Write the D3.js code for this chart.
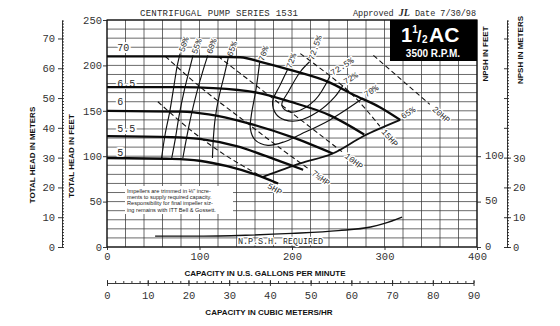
<!DOCTYPE html>
<html><head><meta charset="utf-8">
<script src="https://cdn.jsdelivr.net/npm/d3@7"></script>
<style>
body{margin:0;background:#fff}
svg{display:block}
.hand{font-family:"Liberation Mono",monospace;fill:#2a2a2a}
.bold{font-family:"Liberation Sans",Arial,sans-serif;font-weight:bold;fill:#111}
.halo{stroke:#fff;stroke-width:4;paint-order:stroke;stroke-linejoin:round}
.axis text{font-family:"Liberation Mono",monospace;font-size:10.5px;fill:#333}
.axis line,.axis path{stroke:#222;stroke-width:0.9}
</style></head><body>
<div id="chart"></div>
<script>
// impeller diameters (inches), head curves as [gpm, feet]
var diameters = ['70', '6.5', '6', '5.5', '5'];
var head70 = [[0,210],[80,210],[144,209],[169,203],[198,195],[241,181],[266,168],[295,154],[317,140]];
var head65 = [[0,176],[80,176],[115,175],[162,170],[198,160],[241,145],[278,124]];
var head60 = [[0,150],[80,149],[110,146],[150,137],[200,121],[244,103]];
var head55 = [[0,122],[70,121],[100,119],[140,111],[180,97],[212,85]];
var head50 = [[0,98],[70,97],[100,95],[130,89],[160,80],[185,70]];
var labelFt = [220, 180, 160, 130, 104];

// efficiency iso-lines
var effNames = ['50%', '55%', '60%', '65%', '70%', '72%', '72.5%'];
var eff50 = [[79,213],[76,200],[72,175],[68,150],[63,125],[59,98]];
var eff55 = [[93,211],[89,195],[83,170],[78,145],[74,120],[70,98]];
var eff60 = [[109,211],[104,195],[97,170],[91,145],[86,120],[82,98]];
var eff65 = [[131,208],[127,190],[121,165],[117,142],[115,120],[114,98]];
var eff65r = [[168,77],[209,92],[244,103],[277,122],[317,140]];
var eff70 = [[165,203],[161,173],[156,145],[155,130],[160,118],[174,112],[192,116],[209,124],[241,140],[277,164]];
var eff72 = [[195,195],[187,178],[179,160],[183,146],[192,140],[206,139],[228,149],[246,165],[255,178]];
var eff725 = [[219,204],[209,193],[196,171],[189,157],[194,150],[204,149],[225,162],[241,188]];

// horsepower lines
var hpNames = ['5HP', '7\u00bdHP', '10HP', '15HP', '20HP'];
var hp5 = [[55,160],[90,129],[128,101],[168,77]];
var hp75 = [[63,210],[101,176],[147,140],[187,109],[218,86]];
var hp10 = [[120,210],[198,149],[254,105]];
var hp15 = [[209,213],[263,170],[295,133]];
var hp20 = [[288,211],[349,157]];

// npsh required, [gpm, feet]
var npsh = [[52,12],[100,12],[150,13],[200,15],[250,18],[285,22],[300,26],[319,33]];

var gpmTicks = [0, 100, 200, 300, 400];
var ftTicks = [0, 50, 100, 150, 200, 250];
var npshFtTicks = [0, 50, 100];
var meterTicks = [0, 10, 20, 30, 40, 50, 60, 70];
var npshMeterTicks = [0, 10, 20, 30];
var cubicTicks = [0, 10, 20, 30, 40, 50, 60, 70, 80, 90];

var FT_PER_M = 3.2808, GPM_PER_M3H = 4.4029;

var svg = d3.select('#chart').append('svg').attr('width', 560).attr('height', 326);

var x = d3.scaleLinear().domain([0, 400]).range([107, 477]);
var y = d3.scaleLinear().domain([0, 250]).range([247, 20]);
var yM = d3.scaleLinear().domain([0, 250 / FT_PER_M]).range([247, 20]);
var xC = d3.scaleLinear().domain([0, 90]).range([107, x(90 * GPM_PER_M3H)]);

// grid
var grid = svg.append('g').attr('stroke', '#3a3a3a').attr('stroke-width', 0.75);
grid.selectAll('.v').data(d3.range(0, 401, 20)).enter().append('line')
  .attr('x1', function(d){return x(d)}).attr('x2', function(d){return x(d)})
  .attr('y1', y(0)).attr('y2', y(250));
grid.selectAll('.h').data(d3.range(0, 251, 10)).enter().append('line')
  .attr('y1', function(d){return y(d)}).attr('y2', function(d){return y(d)})
  .attr('x1', x(0)).attr('x2', x(400));
svg.append('rect').attr('x', x(0)).attr('y', y(250)).attr('width', x(400) - x(0)).attr('height', y(0) - y(250))
  .attr('fill', 'none').attr('stroke', '#111').attr('stroke-width', 1.2);

// axes
svg.append('g').attr('class', 'axis').attr('transform', 'translate(' + x(0) + ',0)')
  .call(d3.axisLeft(y).tickValues(ftTicks).tickSize(4).tickPadding(1).tickSizeOuter(0))
  .call(function(g){ g.select('.domain').remove(); });
svg.append('g').attr('class', 'axis').attr('transform', 'translate(' + x(400) + ',0)')
  .call(d3.axisRight(y).tickValues(npshFtTicks).tickSize(4).tickPadding(4))
  .call(function(g){ g.select('.domain').remove(); g.selectAll('text').attr('dy', '0.2em'); });
svg.append('g').attr('class', 'axis').attr('transform', 'translate(0,' + y(0) + ')')
  .call(d3.axisBottom(x).tickValues(gpmTicks).tickSize(3).tickPadding(3))
  .call(function(g){ g.select('.domain').remove(); });

// meters, left
svg.append('g').attr('class', 'axis').attr('transform', 'translate(62,0)')
  .call(d3.axisLeft(yM).tickValues(meterTicks).tickSize(4).tickPadding(3).tickSizeOuter(0));
svg.append('g').attr('class', 'axis').attr('transform', 'translate(62,0)')
  .call(d3.axisRight(yM).tickValues(d3.range(0, 77, 1)).tickSize(2).tickFormat('').tickSizeOuter(0))
  .call(function(g){ g.select('.domain').remove(); });

// npsh meters, right
svg.append('g').attr('class', 'axis').attr('transform', 'translate(507,0)')
  .call(d3.axisRight(yM).tickValues(npshMeterTicks).tickSize(4).tickPadding(2).tickSizeOuter(0));
svg.append('g').attr('class', 'axis').attr('transform', 'translate(507,0)')
  .call(d3.axisRight(yM).tickValues(d3.range(0, 77, 1)).tickSize(2).tickFormat('').tickSizeOuter(0))
  .call(function(g){ g.select('.domain').remove(); });
svg.append('g').attr('class', 'axis').attr('transform', 'translate(507,0)')
  .call(d3.axisLeft(yM).tickValues(d3.range(0, 77, 10)).tickSize(3).tickFormat('').tickSizeOuter(0))
  .call(function(g){ g.select('.domain').remove(); });

// cubic meters per hour
svg.append('g').attr('class', 'axis').attr('transform', 'translate(0,283)')
  .call(d3.axisBottom(xC).tickValues(cubicTicks).tickSize(3).tickPadding(6).tickSizeOuter(0));
svg.append('g').attr('class', 'axis').attr('transform', 'translate(0,283)')
  .call(d3.axisBottom(xC).tickValues(d3.range(0, 91, 2)).tickSize(-2).tickFormat('').tickSizeOuter(0))
  .call(function(g){ g.select('.domain').remove(); });
svg.append('g').attr('class', 'axis').attr('transform', 'translate(0,283)')
  .call(d3.axisBottom(xC).tickValues(cubicTicks).tickSize(-3).tickFormat('').tickSizeOuter(0))
  .call(function(g){ g.select('.domain').remove(); });

// note block
var note = ['Impellers are trimmed in \u215b" incre-', 'ments to supply required capacity.',
  'Responsibility for final impeller siz-', 'ing remains with ITT Bell & Gossett.'];
svg.append('rect').attr('x', 125).attr('y', 186).attr('width', 108).attr('height', 28).attr('fill', '#fff');
svg.append('g').selectAll('text').data(note).enter().append('text')
  .attr('x', 127).attr('y', function(d, i){return 193 + i * 6.2})
  .attr('font-family', '"Liberation Sans",Arial,sans-serif').attr('font-size', 5.6).attr('fill', '#222')
  .text(function(d){return d});

// diameter labels
svg.append('g').selectAll('text').data(diameters).enter().append('text')
  .attr('class', 'hand halo').attr('font-size', 10)
  .attr('x', x(11)).attr('y', function(d, i){return y(labelFt[i])}).attr('dy', '0.35em')
  .text(function(d){return d});

var lineFn = d3.line().x(function(d){return x(d[0])}).y(function(d){return y(d[1])});
var smoothFn = lineFn.curve(d3.curveCatmullRom.alpha(0.5));

// efficiency lines
var effLeft = [eff50, eff55, eff60, eff65, eff70, eff72, eff725];
var effRight = [[eff65r, '65%'], [eff70, '70%'], [eff72, '72%'], [eff725, '72.5%']];
svg.append('g').selectAll('path').data(effLeft.concat([eff65r])).enter().append('path')
  .attr('d', function(d){return smoothFn(d)}).attr('fill', 'none').attr('stroke', '#111')
  .attr('stroke-width', function(d){return d === eff65r ? 1.8 : 1.15});
svg.append('g').selectAll('text').data(effLeft).enter().append('text')
  .attr('class', 'hand halo').attr('font-size', 8.5).style('stroke-width', 2.5)
  .attr('transform', function(d){return 'translate(' + (x(d[0][0]) + 1) + ',' + (y(d[0][1]) - 2) + ') rotate(-70)'})
  .attr('dy', '0.35em')
  .text(function(d, i){return effNames[i]});
svg.append('g').selectAll('text').data(effRight).enter().append('text')
  .attr('class', 'hand halo').attr('font-size', 8.5).style('stroke-width', 2.5)
  .attr('transform', function(d){var p = d[0][d[0].length - 1]; return 'translate(' + (x(p[0]) + 2) + ',' + (y(p[1]) - 2) + ') rotate(-33)'})
  .attr('dy', '0.2em')
  .text(function(d){return d[1]});

// horsepower lines
var hpLines = [hp5, hp75, hp10, hp15, hp20];
svg.append('g').selectAll('path').data(hpLines).enter().append('path')
  .attr('d', function(d){return smoothFn(d)}).attr('fill', 'none').attr('stroke', '#111')
  .attr('stroke-width', 1.1).attr('stroke-dasharray', '5,3');
svg.append('g').selectAll('text').data(hpLines).enter().append('text')
  .attr('class', 'hand halo').attr('font-size', 8.5).style('stroke-width', 2.5)
  .attr('transform', function(d){
    var a = d[d.length - 2], b = d[d.length - 1];
    var ang = Math.atan2(y(b[1]) - y(a[1]), x(b[0]) - x(a[0])) * 180 / Math.PI;
    return 'translate(' + x(b[0]) + ',' + y(b[1]) + ') rotate(' + ang + ')';
  })
  .attr('x', function(d, i){return i === 0 ? 9 : 5}).attr('dy', function(d, i){return i === 0 ? '0.8em' : '0.35em'})
  .text(function(d, i){return hpNames[i]});

// head curves
var heads = [head70, head65, head60, head55, head50];
svg.append('g').selectAll('path').data(heads).enter().append('path')
  .attr('d', function(d){return lineFn.curve(d3.curveMonotoneX)(d)}).attr('fill', 'none')
  .attr('stroke', '#0a0a0a').attr('stroke-width', 2.3);

// npsh
svg.append('path').attr('d', lineFn.curve(d3.curveMonotoneX)(npsh)).attr('fill', 'none')
  .attr('stroke', '#111').attr('stroke-width', 1.4);
svg.append('text').attr('class', 'hand halo').attr('font-size', 8.5).style('stroke-width', 2.5)
  .attr('x', 238).attr('y', 244).attr('textLength', 85).text('N.P.S.H. REQUIRED');

// titles
svg.append('text').attr('class', 'hand').attr('font-size', 9).attr('x', 140).attr('y', 16)
  .attr('textLength', 158).text('CENTRIFUGAL PUMP SERIES 1531');
var appr = svg.append('text').attr('class', 'hand').attr('font-size', 8.5).attr('x', 353).attr('y', 16)
  .attr('textLength', 123);
appr.append('tspan').text('Approved ');
appr.append('tspan').attr('font-family', '"Liberation Serif",serif').attr('font-weight', 'bold')
  .attr('font-style', 'italic').attr('font-size', 10).text('JL');
appr.append('tspan').text(' Date 7/30/98');

// model box
svg.append('rect').attr('x', 390).attr('y', 20).attr('width', x(400) - 390).attr('height', 41).attr('fill', '#000');
var bx = svg.append('g').attr('class', 'bold').style('fill', '#fff');
bx.append('text').attr('x', 401).attr('y', 42).attr('font-size', 20).style('fill', '#fff')
  .text('1').append('tspan').attr('font-size', 10).attr('dy', -9).text('1')
  .append('tspan');
bx.append('text').attr('x', 417).attr('y', 42).attr('font-size', 16).style('fill', '#fff').text('/');
bx.append('text').attr('x', 422).attr('y', 43).attr('font-size', 10).style('fill', '#fff').text('2');
bx.append('text').attr('x', 429).attr('y', 42).attr('font-size', 21).style('fill', '#fff').text('AC');
bx.append('text').attr('x', 433).attr('y', 57).attr('font-size', 10).attr('text-anchor', 'middle')
  .style('fill', '#fff').text('3500 R.P.M.');

// axis titles
function vtitle(txt, tx, ty) {
  svg.append('text').attr('class', 'bold').attr('font-size', 8).attr('text-anchor', 'middle')
    .attr('transform', 'translate(' + tx + ',' + ty + ') rotate(-90)').text(txt);
}
vtitle('TOTAL HEAD IN METERS', 35, 155);
vtitle('TOTAL HEAD IN FEET', 74, 156);
vtitle('NPSH IN FEET', 488, 54);
vtitle('NPSH IN METERS', 523, 50);
svg.append('text').attr('class', 'bold').attr('font-size', 8).attr('text-anchor', 'middle')
  .attr('x', 265).attr('y', 276).text('CAPACITY IN U.S. GALLONS PER MINUTE');
svg.append('text').attr('class', 'bold').attr('font-size', 8).attr('text-anchor', 'middle')
  .attr('x', 269).attr('y', 315).text('CAPACITY IN CUBIC METERS/HR');
</script>
</body></html>
